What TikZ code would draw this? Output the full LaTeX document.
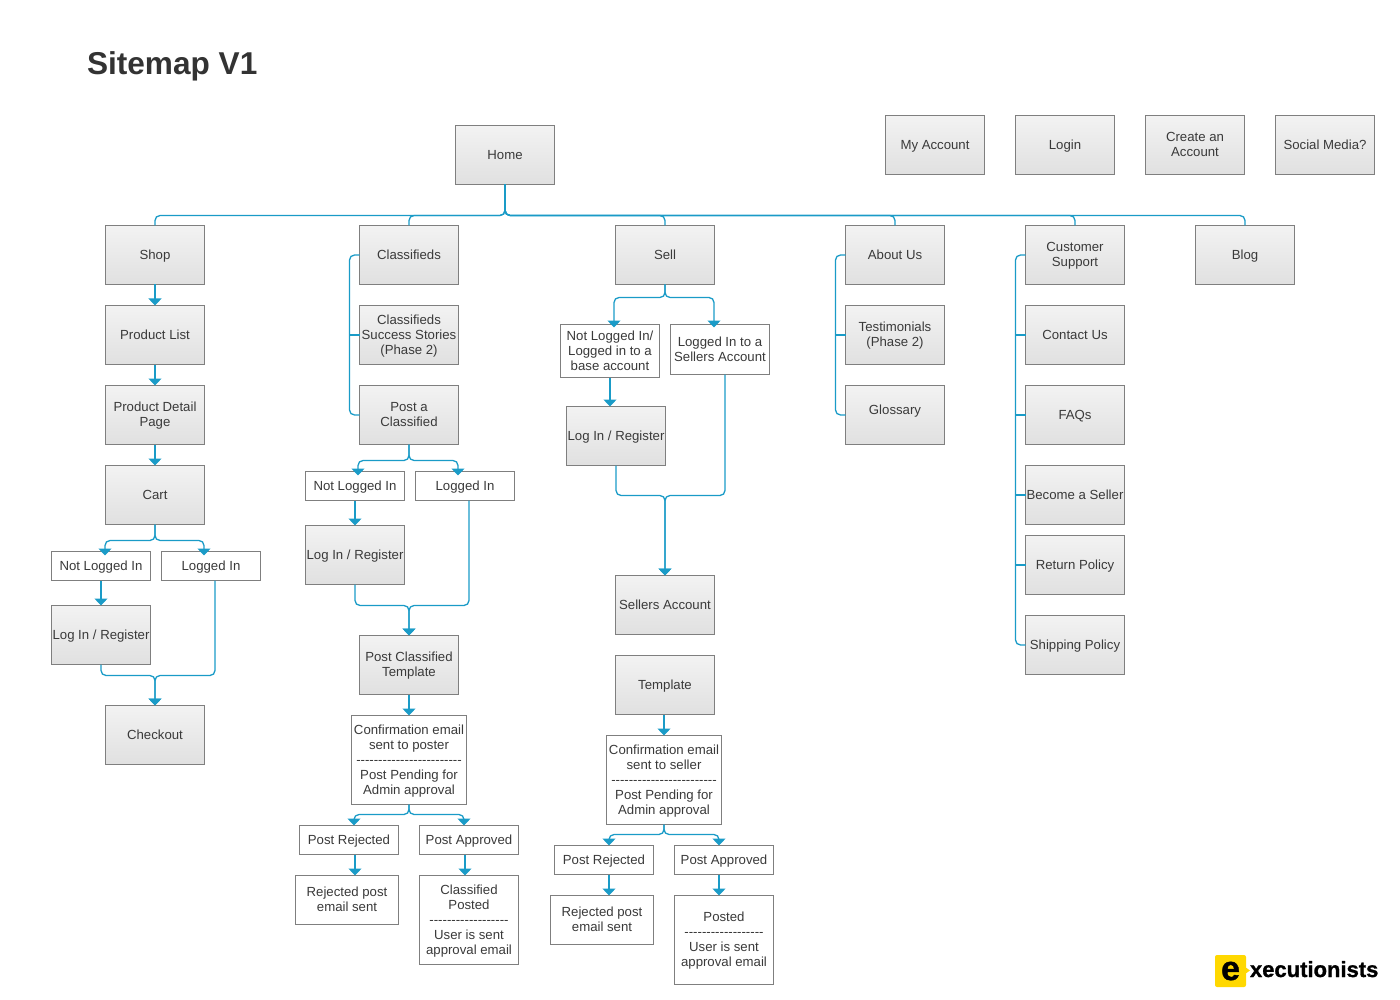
\documentclass[tikz,border=0pt]{standalone}
\usepackage{fontspec}
\usepackage{xcolor}
\setmainfont[Ligatures=TeXOff]{Liberation Sans}
\newfontfamily\logofont[FakeBold=1.2]{Liberation Sans Bold}
\usetikzlibrary{positioning, arrows.meta}
\definecolor{linkblue}{HTML}{1A9BC7}
\definecolor{boxedge}{HTML}{7F7F7F}
\definecolor{inktext}{HTML}{3A3A3A}
\definecolor{logoyellow}{HTML}{FFD800}
\newcommand{\boxstrut}{\rule[-2.2pt]{0pt}{13.2pt}}

\begin{document}
\begin{tikzpicture}[
    x=1pt, y=-1pt,
    node distance=21pt and 31pt,
    every node/.style={font=\fontsize{13.2}{15}\selectfont, text=inktext, align=center, outer sep=0pt},
    box/.style={draw=boxedge, line width=0.8pt, top color=black!5, bottom color=black!12, inner sep=0pt, minimum width=99pt, minimum height=59pt, execute at begin node=\boxstrut, execute at end node=\boxstrut},
    plainbox/.style={draw=boxedge, line width=0.8pt, fill=white, inner sep=0pt, minimum width=99pt, minimum height=29pt, execute at begin node=\boxstrut, execute at end node=\boxstrut},
    lines/.style={text depth=0.7pt},
    link/.style={draw=linkblue, line width=1.3pt, rounded corners=5pt},
    arrow/.style={link, -{Triangle[width=13pt,length=7pt]}}
  ]
    \useasboundingbox (0,0) rectangle (1400,1000);
    \node[anchor=base west, inner sep=0pt, text=black!80, font=\bfseries\fontsize{31.6}{36}\selectfont] (title) at (87,75) {Sitemap V1};

    % top row
    \node[box] (home) at (505,155) {Home};
    \node[box] (account) at (935,145) {My Account};
    \node[box, right=of account] (login) {Login};
    \node[box, lines, right=of login] (create) {Create an\\Account};
    \node[box, right=of create] (social) {Social Media?};
    \coordinate (bus) at (505,215.5);

    % shop
    \node[box] (shop) at (155,255) {Shop};
    \node[box, below=of shop] (plist) {Product List};
    \node[box, lines, below=of plist] (pdetail) {Product Detail\\Page};
    \node[box, below=of pdetail] (cart) {Cart};
    \node[plainbox] (shopno) at (101,566) {Not Logged In};
    \node[plainbox] (shopyes) at (211,566) {Logged In};
    \node[box] (shoplog) at (101,635) {Log In / Register};
    \node[box] (checkout) at (155,735) {Checkout};
    \coordinate (shopjoin) at (155,675.5);

    % classifieds
    \node[box] (class) at (409,255) {Classifieds};
    \node[box, lines, below=of class] (stories) {Classifieds\\Success Stories\\(Phase 2)};
    \node[box, lines, below=of stories] (postad) {Post a\\Classified};
    \node[plainbox] (classno) at (355,486) {Not Logged In};
    \node[plainbox] (classyes) at (465,486) {Logged In};
    \node[box] (classlog) at (355,555) {Log In / Register};
    \node[box, lines] (classtpl) at (409,665) {Post Classified\\Template};
    \node[plainbox, lines, minimum width=115pt, minimum height=89pt] (classmail) at (409,760) {Confirmation email\\sent to poster\\------------------------\\Post Pending for\\Admin approval};
    \node[plainbox] (classrej) at (349,840) {Post Rejected};
    \node[plainbox] (classapp) at (469,840) {Post Approved};
    \node[plainbox, lines, minimum width=103pt, minimum height=49pt] (classrejmail) at (347,900) {Rejected post\\email sent};
    \node[plainbox, lines, minimum height=89pt] (classposted) at (469,920) {Classified\\Posted\\------------------\\User is sent\\approval email};
    \coordinate (classjoin) at (409,605.5);

    % sell
    \node[box] (sell) at (665,255) {Sell};
    \node[plainbox, lines, minimum height=53pt] (sellno) at (610,351) {Not Logged In/\\Logged in to a\\base account};
    \node[plainbox, lines, minimum height=50pt] (sellyes) at (720,349.5) {Logged In to a\\Sellers Account};
    \node[box] (selllog) at (616,436) {Log In / Register};
    \node[box] (sellacc) at (665,605) {Sellers Account};
    \node[box, below=of sellacc] (selltpl) {Template};
    \node[plainbox, lines, minimum width=115pt, minimum height=89pt] (sellmail) at (664,780) {Confirmation email\\sent to seller\\------------------------\\Post Pending for\\Admin approval};
    \node[plainbox] (sellrej) at (604,860) {Post Rejected};
    \node[plainbox] (sellapp) at (724,860) {Post Approved};
    \node[plainbox, lines, minimum width=103pt, minimum height=49pt] (sellrejmail) at (602,920) {Rejected post\\email sent};
    \node[plainbox, lines, minimum height=89pt] (sellposted) at (724,940) {Posted\\------------------\\User is sent\\approval email};
    \coordinate (selljoin) at (665,495.5);

    % about
    \node[box] (about) at (895,255) {About Us};
    \node[box, lines, below=of about] (testi) {Testimonials\\(Phase 2)};
    \node[box, below=of testi] (gloss) {\raisebox{8pt}{Glossary}};

    % support
    \node[box, lines] (support) at (1075,255) {Customer\\Support};
    \node[box, below=of support] (contact) {Contact Us};
    \node[box, below=of contact] (faq) {FAQs};
    \node[box, below=of faq] (seller) {Become a Seller};
    \node[box, below=11pt of seller] (returns) {Return Policy};
    \node[box, below=of returns] (shipping) {Shipping Policy};

    \node[box] (blog) at (1245,255) {Blog};

    % connectors
    \foreach \head in {shop, class, sell, about, support, blog}
      \draw[link] (home.south) -- (bus) -| (\head.north);

    \draw[arrow] (shop) -- (plist);
    \draw[arrow] (plist) -- (pdetail);
    \draw[arrow] (pdetail) -- (cart);
    \draw[arrow] (cart.south) -- ++(0,16) -| ([xshift=4pt,yshift=-4pt]shopno.north);
    \draw[arrow] (cart.south) -- ++(0,16) -| ([xshift=-7pt,yshift=-4pt]shopyes.north);
    \draw[arrow] (shopno) -- (shoplog);
    \draw[arrow] (shoplog.south) |- (shopjoin) -- (checkout.north);
    \draw[arrow] ([xshift=4pt]shopyes.south) |- (shopjoin) -- (checkout.north);

    \draw[link] (class.west) -- ++(-10,0) |- (postad.west);
    \draw[link] (stories.west) -- ++(-10,0);
    \draw[arrow] (postad.south) -- ++(0,16) -| ([xshift=3pt,yshift=-4pt]classno.north);
    \draw[arrow] (postad.south) -- ++(0,16) -| ([xshift=-7pt,yshift=-4pt]classyes.north);
    \draw[arrow] (classno) -- (classlog);
    \draw[arrow] (classlog.south) |- (classjoin) -- (classtpl.north);
    \draw[arrow] ([xshift=4pt]classyes.south) |- (classjoin) -- (classtpl.north);
    \draw[arrow] (classtpl) -- (classmail);
    \draw[arrow] (classmail.south) -- ++(0,10) -| ([xshift=5pt]classrej.north);
    \draw[arrow] (classmail.south) -- ++(0,10) -| ([xshift=-5pt]classapp.north);
    \draw[arrow] ([xshift=6pt]classrej.south) -- ([xshift=8pt]classrejmail.north);
    \draw[arrow] ([xshift=-4pt]classapp.south) -- ([xshift=-4pt]classposted.north);

    \draw[arrow] (sell.south) -- ++(0,13) -| ([xshift=4pt,yshift=-3pt]sellno.north);
    \draw[arrow] (sell.south) -- ++(0,13) -| ([xshift=-6pt,yshift=-3pt]sellyes.north);
    \draw[arrow] (sellno) -- (sellno|-selllog.north);
    \draw[arrow] (selllog.south) |- (selljoin) -- (sellacc.north);
    \draw[arrow] ([xshift=5pt]sellyes.south) |- (selljoin) -- (sellacc.north);
    \draw[arrow] ([xshift=-1pt]selltpl.south) -- (sellmail.north);
    \draw[arrow] (sellmail.south) -- ++(0,10) -| ([xshift=5pt]sellrej.north);
    \draw[arrow] (sellmail.south) -- ++(0,10) -| ([xshift=-5pt]sellapp.north);
    \draw[arrow] ([xshift=5pt]sellrej.south) -- ([xshift=7pt]sellrejmail.north);
    \draw[arrow] ([xshift=-5pt]sellapp.south) -- ([xshift=-5pt]sellposted.north);

    \draw[link] (about.west) -- ++(-10,0) |- (gloss.west);
    \draw[link] (testi.west) -- ++(-10,0);
    \draw[link] (support.west) -- ++(-10,0) |- (shipping.west);
    \foreach \item in {contact, faq, seller, returns}
      \draw[link] (\item.west) -- ++(-10,0);

    % logo
    \fill[logoyellow] (1245,967) -- (1250,970.5) -- (1245,974) -- cycle;
    \node[fill=logoyellow, rounded corners=2pt, minimum width=31pt, minimum height=32pt, inner sep=0pt, font=\logofont\fontsize{34}{34}\selectfont, text=black] (logo) at (1230.5,971) {\raisebox{-9pt}[0pt][0pt]{e}};
    \node[anchor=base west, inner sep=0pt, font=\logofont\fontsize{22}{22}\selectfont, text=black] (brand) at (1250,977) {xecutionists};
  \end{tikzpicture}
\end{document}
